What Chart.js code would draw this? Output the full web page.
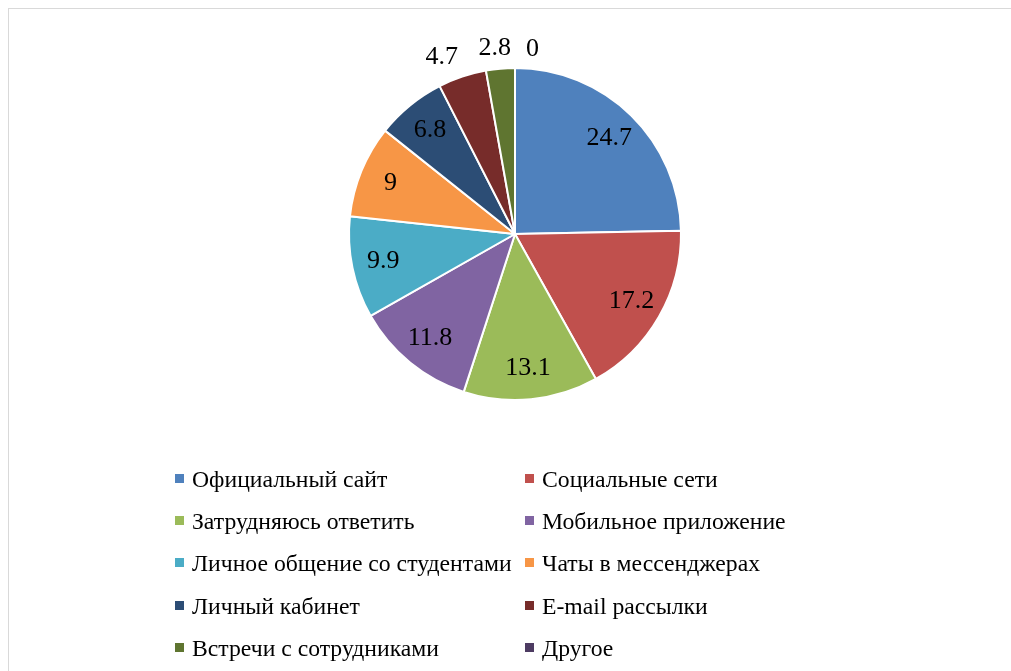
<!DOCTYPE html>
<html lang="ru">

<head>
    <meta charset="UTF-8">
    <title>Pie</title>
    <script src="https://cdn.jsdelivr.net/npm/chart.js@4/dist/chart.umd.min.js"></script>
    <style>
        html, body { margin: 0; padding: 0; background: #fff; overflow: hidden; }
        #wrap { position: relative; width: 1011px; height: 671px; }
        #frame { position: absolute; left: 8px; top: 8px; width: 1100px; height: 800px; border: 1.5px solid #d9d9d9; box-sizing: border-box; }
        #legend { position: absolute; left: 0; top: 0; font-family: "Liberation Serif", "Times New Roman", serif; font-size: 23.7px; color: #000; }
        .item { position: absolute; white-space: nowrap; line-height: 24px; }
        .item span.box { position: absolute; width: 9px; height: 9px; left: 0; top: 7px; }
        .item span.txt { position: absolute; left: 17px; top: 0; }
    </style>
</head>

<body>
    <div id="wrap">
        <div id="frame"></div>
        <canvas id="pie" width="1011" height="671"></canvas>
        <div id="legend"></div>
    </div>

    <script>
        const labels = ['Официальный сайт', 'Социальные сети', 'Затрудняюсь ответить', 'Мобильное приложение',
            'Личное общение со студентами', 'Чаты в мессенджерах', 'Личный кабинет', 'E-mail рассылки',
            'Встречи с сотрудниками', 'Другое'];
        const values = [24.7, 17.2, 13.1, 11.8, 9.9, 9, 6.8, 4.7, 2.8, 0];
        const colors = ['#4F81BD', '#C0504D', '#9BBB59', '#8064A2', '#4BACC6', '#F79646', '#2C4D75', '#772C2A', '#5F7530', '#4D3B62'];

        // value labels, inside for big slices, outside for small ones
        const sliceLabels = {
            id: 'sliceLabels',
            afterDatasetsDraw(chart) {
                const ctx = chart.ctx;
                const meta = chart.getDatasetMeta(0);
                ctx.save();
                ctx.font = '26px "Liberation Serif", "Times New Roman", serif';
                ctx.fillStyle = '#000';
                ctx.textBaseline = 'middle';
                meta.data.forEach((arc, i) => {
                    const p = arc.getProps(['x', 'y', 'startAngle', 'endAngle', 'outerRadius'], true);
                    const mid = (p.startAngle + p.endAngle) / 2;
                    let r, align = 'center', dx = 0, dy = 0;
                    if (values[i] === 0) {
                        r = p.outerRadius + 22; align = 'left'; dx = 11; dy = 3;
                    } else if (values[i] < 5) {
                        r = p.outerRadius + 24; dy = 3;
                    } else {
                        r = p.outerRadius * 0.81;
                    }
                    let x = p.x + Math.cos(mid) * r + dx;
                    const y = p.y + Math.sin(mid) * r + dy;
                    if (values[i] > 0 && values[i] < 5) x += Math.cos(mid) * 40;
                    ctx.textAlign = align;
                    ctx.fillText(String(values[i]), x, y);
                });
                ctx.restore();
            }
        };

        new Chart(document.getElementById('pie'), {
            type: 'pie',
            data: {
                labels: labels,
                datasets: [{
                    data: values,
                    backgroundColor: colors,
                    borderColor: '#fff',
                    borderWidth: 2
                }]
            },
            options: {
                responsive: false,
                animation: false,
                radius: 166,
                layout: { padding: { left: 19, right: 0, top: 0, bottom: 203 } },
                plugins: { legend: { display: false }, tooltip: { enabled: false } }
            },
            plugins: [sliceLabels]
        });

        // legend in two columns
        const legend = document.getElementById('legend');
        labels.forEach((name, i) => {
            const item = document.createElement('div');
            item.className = 'item';
            item.style.left = (175 + (i % 2) * 350) + 'px';
            item.style.top = (467 + Math.floor(i / 2) * 42.2) + 'px';
            item.innerHTML = '<span class="box" style="background:' + colors[i] + '"></span><span class="txt">' + name + '</span>';
            legend.appendChild(item);
        });
    </script>
</body>

</html>
